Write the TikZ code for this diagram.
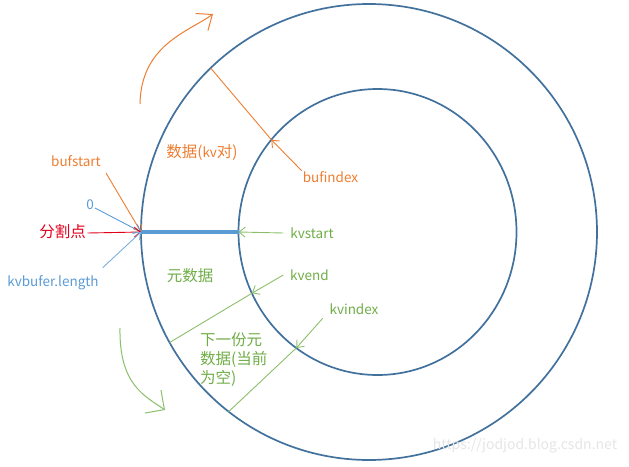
\documentclass[tikz,border=0pt]{standalone}
\usepackage{fontspec}
\setmainfont{Noto Sans CJK SC}
\usetikzlibrary{arrows.meta,shapes.geometric}
\definecolor{ringblue}{HTML}{41719C}
\definecolor{barblue}{HTML}{5B9BD5}
\definecolor{lblblue}{HTML}{5B9BD5}
\definecolor{orng}{HTML}{ED7D31}
\definecolor{grn}{HTML}{70AD47}
\definecolor{grnline}{HTML}{8CBF6A}
\definecolor{redc}{HTML}{E3001B}
\newcommand{\zh}[1]{{\fontsize{15.5pt}{19pt}\selectfont #1}}
\begin{document}
\begin{tikzpicture}[x=1pt,y=-1pt,
  ring/.style={draw=ringblue,line width=1.7pt,inner sep=0pt,outer sep=0pt},
  lbl/.style={font=\fontsize{13.5pt}{19pt}\selectfont,inner sep=1pt},
  thin/.style={line width=0.9pt},
  arr/.style={thin,-{Straight Barb[length=6pt,width=10pt]}},
  bigarr/.style={line width=1pt},
]
\useasboundingbox (0,0) rectangle (629,466);
% rings
\node[ring,circle,minimum size=456pt] (outer) at (369,232) {};
\node[ring,ellipse,minimum width=278pt,minimum height=286pt] (inner) at (377.5,232) {};
\draw[barblue,line width=3.5pt] (outer.west) -- (inner.west);

% labels
\node[lbl,text=orng] (bufstart) at (76,161) {bufstart};
\node[lbl,text=lblblue] (zero) at (90,205) {0};
\node[lbl,text=redc] (split) at (62.5,232) {\zh{分割点}};
\node[lbl,text=lblblue] (kvlen) at (53,283) {kvbufer.length};
\node[lbl,text=orng] (data) at (202,152) {\zh{数据(}kv\zh{对)}};
\node[lbl,text=grn] (meta) at (190,276) {\zh{元数据}};
\node[lbl,text=orng] (bufindex) at (330.5,177) {bufindex};
\node[lbl,text=grn] (kvstart) at (312,233) {kvstart};
\node[lbl,text=grn] (kvend) at (309.5,275) {kvend};
\node[lbl,text=grn] (kvindex) at (354,309) {kvindex};
\node[lbl,text=grn,align=left,anchor=north west] (next) at (199,331) {\zh{下一份元}\\\zh{数据(当前}\\\zh{为空)}};
\node[font=\fontsize{14pt}{16pt}\selectfont,text=black!10] (wm) at (525,446) {https://jodjod.blog.csdn.net};

% free ends of connectors
\coordinate (bsA) at (106,173);
\coordinate (zA) at (95,208);
\coordinate (spA) at (87.5,233);
\coordinate (klA) at (102.7,267.7);
\coordinate (biA) at (301.7,170.7);
\coordinate (ksA) at (283.3,233);
\coordinate (keA) at (283.3,275);
\coordinate (kiA) at (322.7,318.3);

% arrows to the split point
\draw[arr,orng] (bsA) -- (outer.west);
\draw[arr,lblblue] (zA) -- (outer.west);
\draw[arr,redc] (spA) -- (outer.west);
\draw[arr,lblblue!80] (klA) -- (outer.west);

% boundaries
\draw[thin,orng] (outer.134.2) -- (inner.139.3);
\draw[thin,grnline] (inner.206) -- (outer.209.5);
\draw[thin,grnline] (inner.235.2) -- (outer.232.8);

% pointers
\draw[arr,orng] (biA) -- (inner.139.3);
\draw[arr,grnline] (ksA) -- (inner.west);
\draw[arr,grnline] (keA) -- (inner.206);
\draw[arr,grnline] (kiA) -- (inner.235.2);

% direction arrows
\coordinate (oS) at (140,104);
\coordinate (oE) at (213,14);
\draw[bigarr,orng,-{Straight Barb[length=13pt,width=21pt]}] (oS) .. controls (141,45) and (188,32) .. (oE);
\coordinate (gS) at (120,328);
\coordinate (gE) at (165,410);
\draw[bigarr,grnline,-{Straight Barb[length=14pt,width=28pt]}] (gS) .. controls (119,385) and (145,396) .. (gE);
\end{tikzpicture}
\end{document}
